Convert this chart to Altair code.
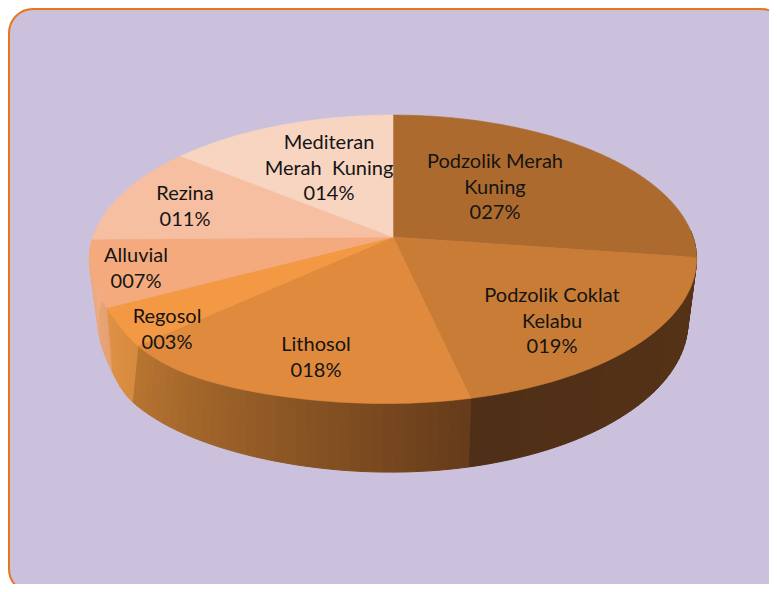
import math
import altair as alt
import pandas as pd

# ---- chart values -------------------------------------------------------
SOILS = ["Podzolik Merah Kuning", "Podzolik Coklat Kelabu", "Lithosol", "Regosol",
         "Alluvial", "Rezina", "Mediteran Merah Kuning"]
SHARES = [27, 19, 18, 3, 7, 11, 14]
LABEL_LINES = [["Podzolik Merah", "Kuning"], ["Podzolik Coklat", "Kelabu"], ["Lithosol"], ["Regosol"],
               ["Alluvial"], ["Rezina"], ["Mediteran", "Merah\u00a0\u00a0Kuning"]]

# ---- styles -------------------------------------------------------------
TOP_COLORS = ["#AD6A2E", "#C97C35", "#E08A3D", "#F39843", "#F4AA7C", "#F7BFA1", "#F8D5C1"]
# wall colour at the start and end of each slice
WALL_STOPS = [("#4A2A10", "#563316"), ("#563316", "#4F2F17"), ("#653B1A", "#B87530"),
              ("#D68A3E", "#DF9244"), ("#E6A070", "#F0AE88"), ("#F0AE88", "#F0B898"), ("#F0B898", "#F0B898")]

# ---- layout (pixels of the page) ---------------------------------------
MARGIN = 8
PLOT_W, PLOT_H = 761, 576
CX, CY, A, B, K = 393, 237, 300, 140.6, 0.153
CY2, A2, B2 = 299, 291.5, 146.5
# the photographed pie sags a little at its lower left
SAG_AT, SAG_NEAR, SAG_FAR = math.radians(232), math.radians(28), math.radians(10)
TOP_SAG, BOTTOM_SAG = (8, 15), (-5, 5)
LABEL_ANCHORS = [(495, 162), (552, 296), (316, 345), (167, 317), (136, 256), (185, 194), (329, 143)]
LINE_STEP = 25.5

total = sum(SHARES)


def rim(theta, cy, a, b, sag):
    s, c = math.sin(theta), math.cos(theta)
    d = 1 + K * c
    w = SAG_NEAR if theta < SAG_AT else SAG_FAR
    f = math.exp(-((theta - SAG_AT) / w) ** 2)
    return CX + a * s / d + sag[0] * f, cy - b * c / d + sag[1] * f


def top_rim(theta):
    return rim(theta, CY, A, B, TOP_SAG)


def bottom_rim(theta):
    return rim(theta, CY2, A2, B2, BOTTOM_SAG)


def mix(c1, c2, t):
    v1 = [int(c1[i:i + 2], 16) for i in (1, 3, 5)]
    v2 = [int(c2[i:i + 2], 16) for i in (1, 3, 5)]
    return "#%02x%02x%02x" % tuple(round(p + (q - p) * t) for p, q in zip(v1, v2))


edges = [0.0]
for v in SHARES:
    edges.append(edges[-1] + v / total * 2 * math.pi)

top_rows, wall_rows = [], []
for n, v in enumerate(SHARES):
    t0, t1 = edges[n], edges[n + 1]
    steps = max(12, int(v * 5))
    pts = [(CX, CY)] + [top_rim(t0 + (t1 - t0) * j / steps) for j in range(steps + 1)] + [(CX, CY)]
    for i, (x, y) in enumerate(pts):
        top_rows.append({"g": n, "i": i, "x": x, "y": y, "c": TOP_COLORS[n]})
    strips = max(4, int(v * 2))
    for j in range(strips):
        a0 = t0 + (t1 - t0) * j / strips
        a1 = t0 + (t1 - t0) * (j + 1) / strips
        if math.cos((a0 + a1) / 2) > 0.05:
            continue
        col = mix(WALL_STOPS[n][0], WALL_STOPS[n][1], (j + 0.5) / strips)
        quad = [top_rim(a0), top_rim(a1), bottom_rim(a1), bottom_rim(a0), top_rim(a0)]
        for i, (x, y) in enumerate(quad):
            wall_rows.append({"g": f"{n}-{j}", "i": i, "x": x, "y": y, "c": col})

text_rows = []
for n, v in enumerate(SHARES):
    ax, ay = LABEL_ANCHORS[n]
    for i, line in enumerate(LABEL_LINES[n] + [f"{v:03d}%"]):
        text_rows.append({"x": ax, "y": ay + i * LINE_STEP, "t": line})

xs = alt.X("x:Q", axis=None, scale=alt.Scale(domain=[MARGIN, MARGIN + PLOT_W], nice=False, zero=False))
ys = alt.Y("y:Q", axis=None, scale=alt.Scale(domain=[MARGIN + PLOT_H, MARGIN], nice=False, zero=False))

panel = alt.Chart(pd.DataFrame({"a": [0]})).mark_rect(
    fill="#CBC1DC", stroke="#E8761F", strokeWidth=2, cornerRadius=24
).encode(x=alt.value(1), x2=alt.value(777), y=alt.value(1), y2=alt.value(585))


def faces(rows, sw):
    return alt.Chart(pd.DataFrame(rows)).mark_line(strokeWidth=sw, interpolate="linear").encode(
        x=xs, y=ys, order="i:Q", detail="g:N",
        color=alt.Color("c:N", scale=None, legend=None),
        fill=alt.Fill("c:N", scale=None, legend=None),
    )


labels = alt.Chart(pd.DataFrame(text_rows)).mark_text(
    font="Lato", fontSize=20, color="#141414", align="center", baseline="middle"
).encode(x=xs, y=ys, text="t:N")

chart = alt.layer(panel, faces(wall_rows, 1), faces(top_rows, 0.6), labels).properties(
    width=PLOT_W, height=PLOT_H, padding=0, autosize=alt.AutoSizeParams(type="none")
).configure_view(stroke=None)

chart.save("out.html", embed_options={"renderer": "svg", "actions": False})
